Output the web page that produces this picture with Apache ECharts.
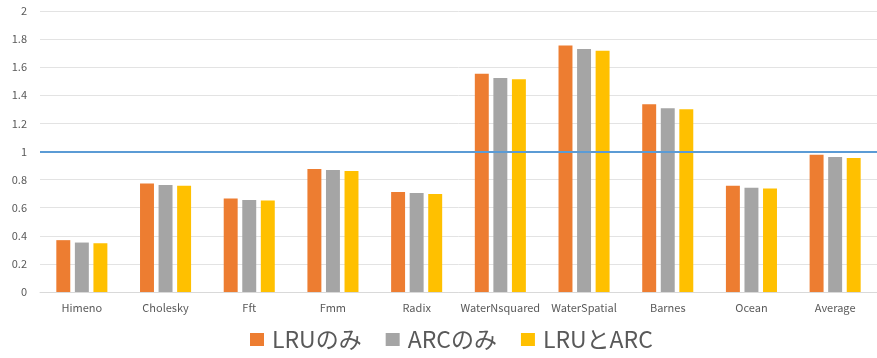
<!DOCTYPE html>
<html>
<head>
<meta charset="utf-8">
<script src="https://cdn.jsdelivr.net/npm/echarts@6/dist/echarts.min.js"></script>
<style>
  html, body { margin: 0; padding: 0; background: #fff; }
  #chart { width: 877px; height: 358px; }
</style>
</head>
<body>
<div id="chart"></div>
<script>
// Benchmarks on the category axis
const categories = ['Himeno', 'Cholesky', 'Fft', 'Fmm', 'Radix', 'WaterNsquared', 'WaterSpatial', 'Barnes', 'Ocean', 'Average'];
const seriesNames = ['LRUのみ', 'ARCのみ', 'LRUとARC'];
// Relative values per benchmark (1 = baseline)
const lruOnly = [0.369, 0.773, 0.666, 0.875, 0.711, 1.553, 1.755, 1.337, 0.756, 0.977];
const arcOnly = [0.352, 0.761, 0.654, 0.868, 0.704, 1.524, 1.729, 1.308, 0.742, 0.961];
const lruAndArc = [0.347, 0.756, 0.652, 0.861, 0.697, 1.515, 1.717, 1.301, 0.737, 0.954];
const baseline = 1;
const yTicks = { min: 0, max: 2, interval: 0.2 };

const colors = ['#ED7D31', '#A5A5A5', '#FFC000'];
const font = '"Noto Sans CJK JP", "Open Sans", sans-serif';

const chart = echarts.init(document.getElementById('chart'), null, { renderer: 'canvas' });
const values = [lruOnly, arcOnly, lruAndArc];

chart.setOption({
  animation: false,
  color: colors,
  textStyle: { fontFamily: font },
  grid: { left: 40, right: 0, top: 11, bottom: 66, containLabel: false },
  legend: {
    data: seriesNames,
    bottom: 2,
    left: 245,
    itemWidth: 14,
    itemHeight: 13,
    itemGap: 24,
    icon: 'rect',
    textStyle: { fontSize: 23, color: '#595959', fontFamily: font, padding: [0, 0, 0, 3] }
  },
  xAxis: {
    type: 'category',
    data: categories,
    axisLine: { lineStyle: { color: '#d9d9d9' } },
    axisTick: { show: false },
    axisLabel: { color: '#595959', fontSize: 11, margin: 10, interval: 0, fontFamily: font }
  },
  yAxis: {
    type: 'value',
    min: yTicks.min,
    max: yTicks.max,
    interval: yTicks.interval,
    axisLine: { show: false },
    axisTick: { show: false },
    splitLine: { lineStyle: { color: '#e3e3e3', width: 1 } },
    axisLabel: {
      color: '#595959', fontSize: 11, margin: 13, fontFamily: font,
      formatter: v => String(Math.round(v * 10) / 10)
    }
  },
  series: seriesNames.map((name, i) => ({
    name,
    type: 'bar',
    data: values[i],
    barGap: '33%',
    barCategoryGap: '39%',
    itemStyle: { color: colors[i] },
    markLine: i === 0 ? {
      silent: true,
      symbol: 'none',
      label: { show: false },
      lineStyle: { color: '#5B9BD5', width: 2, type: 'solid' },
      data: [{ yAxis: baseline }]
    } : undefined
  }))
});
</script>
</body>
</html>
